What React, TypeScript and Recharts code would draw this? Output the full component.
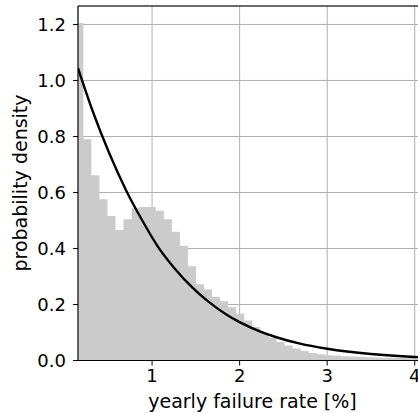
import React from 'react';
import { ComposedChart, Area, Line, XAxis, YAxis, CartesianGrid, ReferenceLine, Label } from 'recharts';

// histogram of simulated yearly failure rates (density per bin)
const BIN_START = 0.123;
const BIN_WIDTH = 0.0919;
const binDensity = [
  1.205, 0.79, 0.662, 0.576, 0.516, 0.466, 0.504, 0.545, 0.548, 0.548,
  0.535, 0.504, 0.46, 0.41, 0.337, 0.272, 0.254, 0.228, 0.212, 0.19,
  0.167, 0.143, 0.12, 0.098, 0.082, 0.066, 0.054, 0.043, 0.034, 0.027,
  0.022, 0.019, 0.018, 0.015, 0.014, 0.013, 0.012, 0.011, 0.01, 0.01,
  0.009, 0.009, 0.008, 0.008, 0.007, 0.007,
];

// fitted density curve
const curveRate = [0.154, 0.32, 0.51, 0.7, 0.89, 1.07, 1.26, 1.45, 1.64, 1.83, 2.0, 2.23, 2.42, 2.69, 3.0, 3.5, 4.0, 4.3];
const curveDensity = [1.044, 0.892, 0.741, 0.61, 0.499, 0.405, 0.328, 0.264, 0.211, 0.168, 0.137, 0.104, 0.083, 0.06, 0.042, 0.023, 0.0125, 0.009];

const xTicks = [1, 2, 3, 4];
const yTicks = [0, 0.2, 0.4, 0.6, 0.8, 1.0, 1.2];

const X_MIN = 0.154;
const X_MAX = 4.14;
const Y_MAX = 1.266;

// step area needs the left edge of every bin plus the closing edge
const histData = binDensity.map((d, i) => ({ x: BIN_START + i * BIN_WIDTH, y: d }));
histData.push({ x: BIN_START + binDensity.length * BIN_WIDTH, y: binDensity[binDensity.length - 1] });

const curveData = curveRate.map((x, i) => ({ x, y: curveDensity[i] }));

const FONT = 'DejaVu Sans, sans-serif';
const tickStyle = { fontSize: 18, fill: '#000', fontFamily: FONT };

export default function App() {
  return (
    <div style={{ position: 'absolute', left: 0, top: 0, width: 418, height: 413, overflow: 'hidden', background: '#fff' }}>
      <ComposedChart width={427} height={413} margin={{ top: 6, right: 0, bottom: 0, left: 0 }}>
        <XAxis
          dataKey="x"
          type="number"
          domain={[X_MIN, X_MAX]}
          allowDataOverflow
          ticks={xTicks}
          height={52.5}
          tick={tickStyle}
          tickSize={5}
          tickMargin={4}
          stroke="#000"
          axisLine={{ stroke: '#000', strokeWidth: 1.1 }}
          tickLine={{ stroke: '#000' }}
        >
          <Label
            content={() => (
              <text x={252.5} y={408} textAnchor="middle" fontSize={19} fontFamily={FONT} fill="#000">
                yearly failure rate [%]
              </text>
            )}
          />
        </XAxis>
        <YAxis
          type="number"
          domain={[0, Y_MAX]}
          allowDataOverflow
          ticks={yTicks}
          width={78}
          tick={tickStyle}
          tickFormatter={(v: number) => v.toFixed(1)}
          tickSize={5}
          tickMargin={7}
          stroke="#000"
          axisLine={{ stroke: '#000', strokeWidth: 1.1 }}
          tickLine={{ stroke: '#000' }}
        >
          <Label
            content={() => (
              <text
                x={27}
                y={183}
                transform="rotate(-90 27 183)"
                textAnchor="middle"
                fontSize={19}
                fontFamily={FONT}
                fill="#000"
              >
                probability density
              </text>
            )}
          />
        </YAxis>
        <Area
          data={histData}
          dataKey="y"
          type="stepAfter"
          fill="#cbcbcb"
          fillOpacity={1}
          stroke="none"
          isAnimationActive={false}
        />
        <CartesianGrid stroke="#b0b0b0" strokeWidth={1} />
        <Line
          data={curveData}
          dataKey="y"
          type="monotone"
          stroke="#000"
          strokeWidth={2.4}
          dot={false}
          isAnimationActive={false}
        />
        <ReferenceLine y={Y_MAX} stroke="#000" strokeWidth={1.1} />
      </ComposedChart>
    </div>
  );
}
